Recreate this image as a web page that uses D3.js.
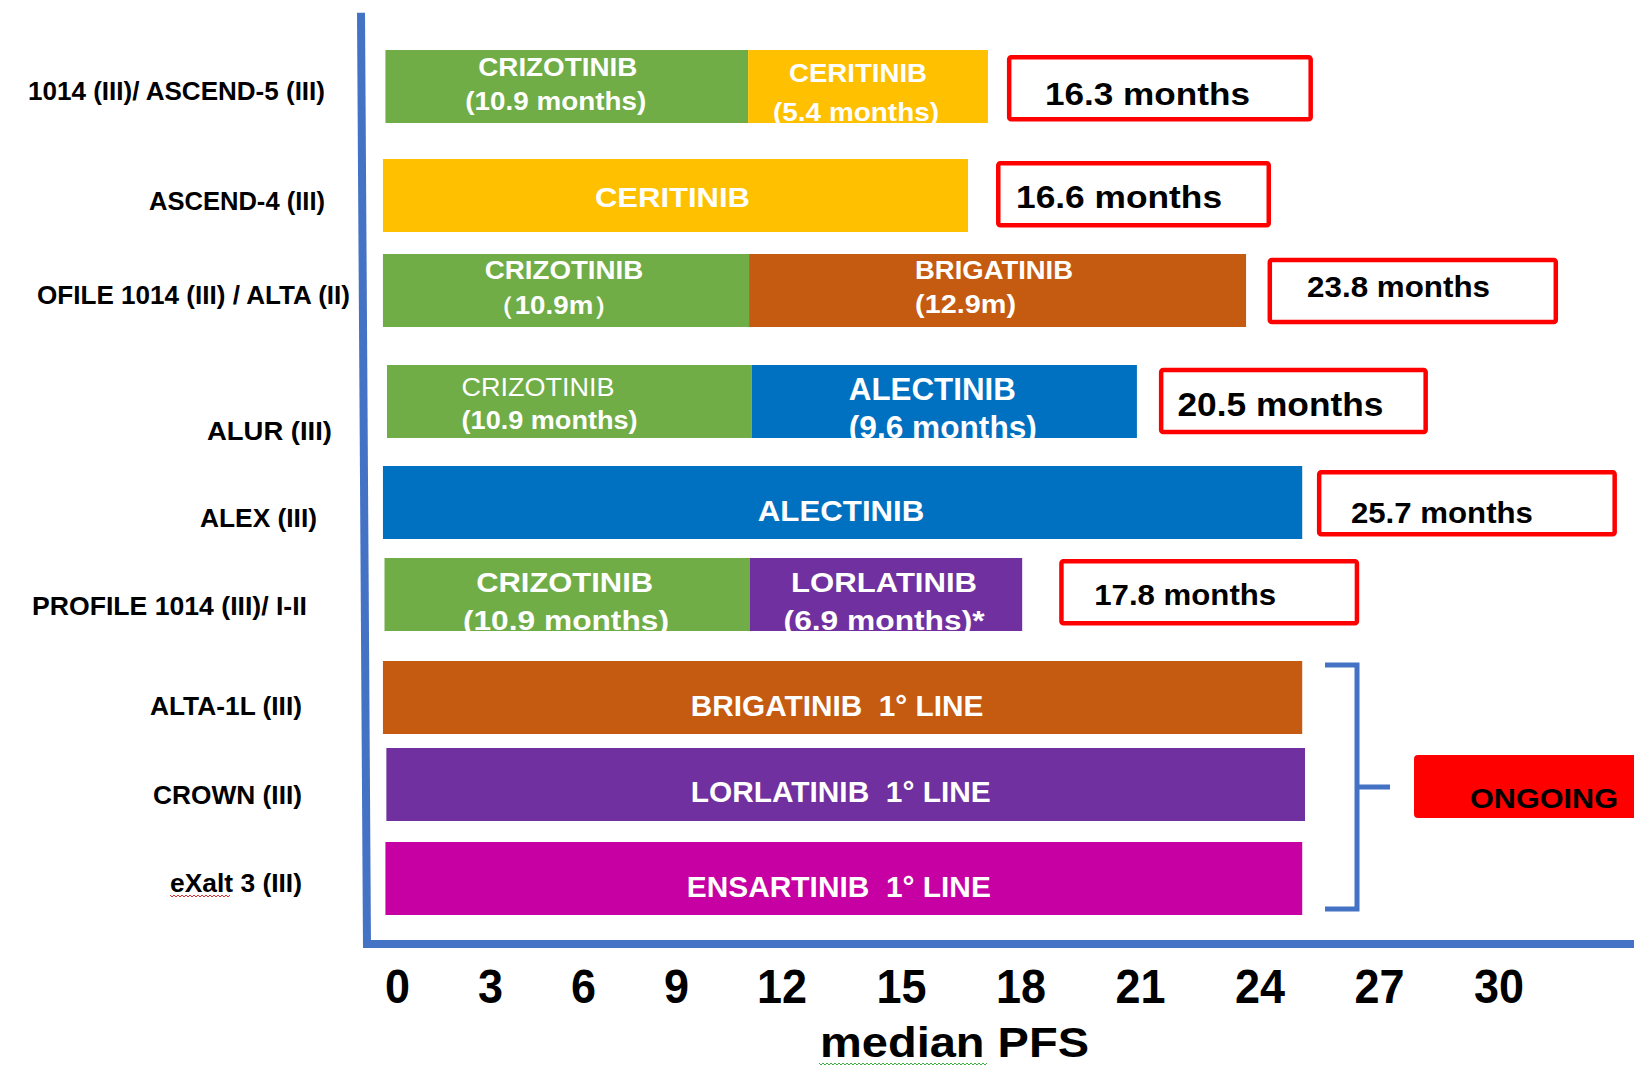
<!DOCTYPE html>
<html><head><meta charset="utf-8">
<script src="https://cdn.jsdelivr.net/npm/d3@7"></script>
<style>html,body{margin:0;padding:0;background:#fff;overflow:hidden}svg{display:block}text{white-space:pre}</style>
</head><body>
<svg id="chart" width="1634" height="1067"></svg>
<script>
// ---------- data ----------
const studies = ["1014 (III)/ ASCEND-5 (III)", "ASCEND-4 (III)", "OFILE 1014 (III) / ALTA (II)", "ALUR (III)",
  "ALEX (III)", "PROFILE 1014 (III)/ I-II", "ALTA-1L (III)", "CROWN (III)", "eXalt 3 (III)"];
const segRow   = [0, 0, 1, 2, 2, 3, 3, 4, 5, 5, 6, 7, 8];
const segDrug  = ["CRIZOTINIB","CERITINIB","CERITINIB","CRIZOTINIB","BRIGATINIB","CRIZOTINIB","ALECTINIB",
  "ALECTINIB","CRIZOTINIB","LORLATINIB","BRIGATINIB","LORLATINIB","ENSARTINIB"];
const segStart = [0.03, 11.73, -0.05, -0.05, 11.76, 0.08, 11.85, -0.05, 0.0, 11.79, -0.05, 0.06, 0.03];
const segEnd   = [11.73, 17.81, 17.31, 11.76, 24.29, 11.85, 21.55, 25.70, 11.79, 18.67, 25.70, 25.77, 25.70];
const segLine1 = ["CRIZOTINIB","CERITINIB","CERITINIB","CRIZOTINIB","BRIGATINIB","CRIZOTINIB","ALECTINIB",
  "ALECTINIB","CRIZOTINIB","LORLATINIB","BRIGATINIB  1° LINE","LORLATINIB  1° LINE","ENSARTINIB  1° LINE"];
const segLine2 = ["(10.9 months)","(5.4 months)","","（10.9m）","(12.9m)","(10.9 months)","(9.6 months)","",
  "(10.9 months)","(6.9 months)*","","",""];
const pfsRows   = [0, 1, 2, 3, 4, 5];
const pfsLabels = ["16.3 months","16.6 months","23.8 months","20.5 months","25.7 months","17.8 months"];
const ongoingRows = [6, 7, 8];
const ongoingLabel = "ONGOING";
const xTicks = [0, 3, 6, 9, 12, 15, 18, 21, 24, 27, 30];
const xTitle = "median PFS";

// ---------- styles / layout ----------
const drugColor = d3.scaleOrdinal()
  .domain(["CRIZOTINIB","CERITINIB","BRIGATINIB","ALECTINIB","LORLATINIB","ENSARTINIB"])
  .range(["#70AD47","#FFC000","#C55A11","#0070C0","#7030A0","#C600A2"]);
const axisBlue = "#4472C4";
const FONT = "'Liberation Sans', Arial, 'Noto Sans', sans-serif";

const x = d3.scaleLinear().domain([0, 12, 30]).range([384.5, 756.5, 1473.5]);
const rowTop = d3.scaleOrdinal().domain(d3.range(9)).range([50, 159, 254, 365, 466, 558, 661, 748, 842]);
const labelBase = d3.scaleOrdinal().domain(d3.range(9)).range([100, 210, 304, 440, 527, 615, 715, 804, 892]);
const labelRight = [325, 325, 350, 332, 317, 307, 302, 302, 302];
const labelWidth = [297, 176, 313, 125, 117, 275, 152, 149, 132];
const barH = 73;

const segText = [
  {a:"middle", dx1:-9,   dx2:-11,  fs:25, b1:26,   w1:159,   b2:60,   w2:181},
  {a:"middle", dx1:-10,  dx2:-12,  fs:25, b1:31.5, w1:138,   b2:70.5, w2:166},
  {a:"middle", dx1:-3,             fs:28, b1:47.5, w1:155},
  {a:"middle", dx1:-2,   dx2:-12,  fs:25, b1:25,   w1:158.5, b2:60,   w2:134},
  {a:"start",  dx1:166,  dx2:166,  fs:25, b1:25,   w1:158,   b2:59,   w2:101},
  {a:"start",  dx1:74.6, dx2:74.6, fs:25, b1:31,   w1:153,   b2:64,   w2:176, fw1:"normal"},
  {a:"start",  dx1:97,   dx2:97,   fs:31, b1:35,   w1:167,   b2:73,   w2:188},
  {a:"middle", dx1:-1.5,           fs:30, b1:54.5, w1:166.5},
  {a:"middle", dx1:-2.6, dx2:-1.3, fs:28, b1:33.5, w1:177,   b2:72,   w2:206},
  {a:"middle", dx1:-2,   dx2:-2,   fs:28, b1:33.5, w1:186,   b2:72,   w2:201},
  {a:"middle", dx1:-5.5,           fs:30, b1:55,   w1:292.6},
  {a:"middle", dx1:-5,             fs:30, b1:54,   w1:300},
  {a:"middle", dx1:-5,             fs:30, b1:54.5, w1:304}
];
const boxLayout = [
  {gap:19,   w:306,   top:5,   tdx:38,   tb:49.5, fs:32, tw:205},
  {gap:28,   w:275,   top:2,   tdx:20,   tb:46.5, fs:32, tw:206},
  {gap:21.5, w:290.5, top:3.7, tdx:39.5, tb:39.3, fs:29, tw:183},
  {gap:22,   w:269,   top:2.7, tdx:18.5, tb:48.3, fs:33, tw:206},
  {gap:14.7, w:300,   top:4,   tdx:34,   tb:53,   fs:29, tw:182},
  {gap:37,   w:300,   top:1,   tdx:35,   tb:45.5, fs:29, tw:182}
];
const boxH = 66.5, boxStroke = 4.5;

// ---------- drawing ----------
const svg = d3.select("#chart");
svg.append("rect").attr("width",1634).attr("height",1067).attr("fill","#fff");
const defs = svg.append("defs");

const segs = segRow.map((r, i) => ({i, r, drug: segDrug[i], s: segStart[i], e: segEnd[i],
  l1: segLine1[i], l2: segLine2[i], t: segText[i]}));

// clip paths for bar texts
defs.selectAll("clipPath").data(segs).join("clipPath")
  .attr("id", d => "clip" + d.i)
  .append("rect")
  .attr("x", d => x(d.s)).attr("y", d => rowTop(d.r))
  .attr("width", d => x(d.e) - x(d.s)).attr("height", barH);

// bars
svg.append("g").selectAll("rect").data(segs).join("rect")
  .attr("x", d => x(d.s)).attr("y", d => rowTop(d.r))
  .attr("width", d => x(d.e) - x(d.s)).attr("height", barH)
  .attr("fill", d => drugColor(d.drug));

// bar texts
const segG = svg.append("g").selectAll("g").data(segs).join("g")
  .attr("clip-path", d => `url(#clip${d.i})`);
function segX(d, dx) {
  return d.t.a === "start" ? x(d.s) + dx : (x(d.s) + x(d.e)) / 2 + dx;
}
segG.append("text")
  .attr("x", d => segX(d, d.t.dx1)).attr("y", d => rowTop(d.r) + d.t.b1)
  .attr("text-anchor", d => d.t.a)
  .attr("font-family", FONT).attr("font-weight", d => d.t.fw1 || "bold")
  .attr("font-size", d => d.t.fs).attr("fill", "#fff")
  .attr("textLength", d => d.t.w1).attr("lengthAdjust", "spacingAndGlyphs")
  .text(d => d.l1);
segG.filter(d => d.l2).append("text")
  .attr("x", d => segX(d, d.t.dx2)).attr("y", d => rowTop(d.r) + d.t.b2)
  .attr("text-anchor", d => d.t.a)
  .attr("font-family", FONT).attr("font-weight", "bold")
  .attr("font-size", d => d.t.fs).attr("fill", "#fff")
  .attr("textLength", d => d.t.w2).attr("lengthAdjust", "spacingAndGlyphs")
  .text(d => d.l2);

// row labels
svg.append("g").selectAll("text").data(studies).join("text")
  .attr("x", (d, i) => labelRight[i] - labelWidth[i]).attr("y", (d, i) => labelBase(i))
  .attr("font-family", FONT).attr("font-weight", "bold").attr("font-size", 25).attr("fill", "#000")
  .attr("textLength", (d, i) => labelWidth[i]).attr("lengthAdjust", "spacingAndGlyphs")
  .text(d => d);

// wavy spell-check underlines
function wavy(x0, x1, y, amp) {
  const pts = [];
  for (let xx = x0, k = 0; xx <= x1; xx += 2, k++) pts.push([xx, y + (k % 2 ? amp : -amp)]);
  return d3.line()(pts);
}
{
  const i = studies.indexOf("eXalt 3 (III)");
  const lx = labelRight[i] - labelWidth[i];
  svg.append("path").attr("d", wavy(lx, lx + 60, labelBase(i) + 4, 1))
    .attr("fill", "none").attr("stroke", "#E03030").attr("stroke-width", 1);
}

// row end per row
const rowEnd = d3.rollup(segs, v => d3.max(v, d => d.e), d => d.r);

// red PFS boxes
const boxes = pfsRows.map((r, k) => ({r, label: pfsLabels[k], L: boxLayout[k]}));
const bg = svg.append("g").selectAll("g").data(boxes).join("g")
  .attr("transform", d => `translate(${x(rowEnd.get(d.r)) + d.L.gap},${rowTop(d.r) + d.L.top})`);
bg.append("rect")
  .attr("x", boxStroke / 2).attr("y", boxStroke / 2)
  .attr("width", d => d.L.w - boxStroke).attr("height", boxH - boxStroke)
  .attr("rx", 2).attr("fill", "#fff").attr("stroke", "#FF0000").attr("stroke-width", boxStroke);
bg.append("text")
  .attr("x", d => d.L.tdx).attr("y", d => d.L.tb)
  .attr("font-family", FONT).attr("font-weight", "bold").attr("font-size", d => d.L.fs).attr("fill", "#000")
  .attr("textLength", d => d.L.tw).attr("lengthAdjust", "spacingAndGlyphs")
  .text(d => d.label);

// bracket for ongoing trials
const bTop = rowTop(ongoingRows[0]) + 4;
const bBot = rowTop(ongoingRows[ongoingRows.length - 1]) + barH - 6;
const bX = x(d3.max(ongoingRows, r => rowEnd.get(r))) + 52;
const bMid = (bTop + bBot) / 2;
svg.append("path")
  .attr("d", d3.line()([[bX - 32, bTop], [bX, bTop], [bX, bBot], [bX - 32, bBot]]))
  .attr("fill", "none").attr("stroke", axisBlue).attr("stroke-width", 5);
svg.append("path")
  .attr("d", d3.line()([[bX, bMid], [bX + 33, bMid]]))
  .attr("fill", "none").attr("stroke", axisBlue).attr("stroke-width", 5);
svg.append("rect")
  .attr("x", bX + 57).attr("y", bMid - 32).attr("width", 260).attr("height", 63)
  .attr("rx", 4).attr("fill", "#FF0000");
svg.append("text")
  .attr("x", bX + 113).attr("y", bMid + 21)
  .attr("font-family", FONT).attr("font-weight", "bold").attr("font-size", 28).attr("fill", "#000")
  .attr("textLength", 148).attr("lengthAdjust", "spacingAndGlyphs")
  .text(ongoingLabel);

// axes lines
svg.append("path").attr("d", d3.line()([[361, 12.7], [367, 948]]))
  .attr("stroke", axisBlue).attr("stroke-width", 8).attr("fill", "none");
svg.append("path").attr("d", d3.line()([[363, 944], [1640, 944]]))
  .attr("stroke", axisBlue).attr("stroke-width", 8).attr("fill", "none");

// x tick labels via d3 axis
const ax = svg.append("g").attr("transform", "translate(0,1003)")
  .call(d3.axisBottom(x).tickValues(xTicks).tickSize(0).tickPadding(0).tickFormat(d3.format("d")));
ax.select(".domain").remove();
ax.selectAll("text")
  .attr("y", 0).attr("dy", null).attr("text-anchor", "start")
  .attr("font-family", FONT).attr("font-weight", "bold").attr("font-size", 48).attr("fill", "#000")
  .attr("textLength", d => String(d).length * 25).attr("lengthAdjust", "spacingAndGlyphs");
ax.attr("font-family", null).attr("font-size", null);

// x title
svg.append("text").attr("x", 820).attr("y", 1056.7)
  .attr("font-family", FONT).attr("font-weight", "bold").attr("font-size", 42).attr("fill", "#000")
  .attr("textLength", 269).attr("lengthAdjust", "spacingAndGlyphs")
  .text(xTitle);
svg.append("path").attr("d", wavy(819, 987, 1064, 1))
  .attr("fill", "none").attr("stroke", "#3FAF3F").attr("stroke-width", 1);
</script>
</body></html>
